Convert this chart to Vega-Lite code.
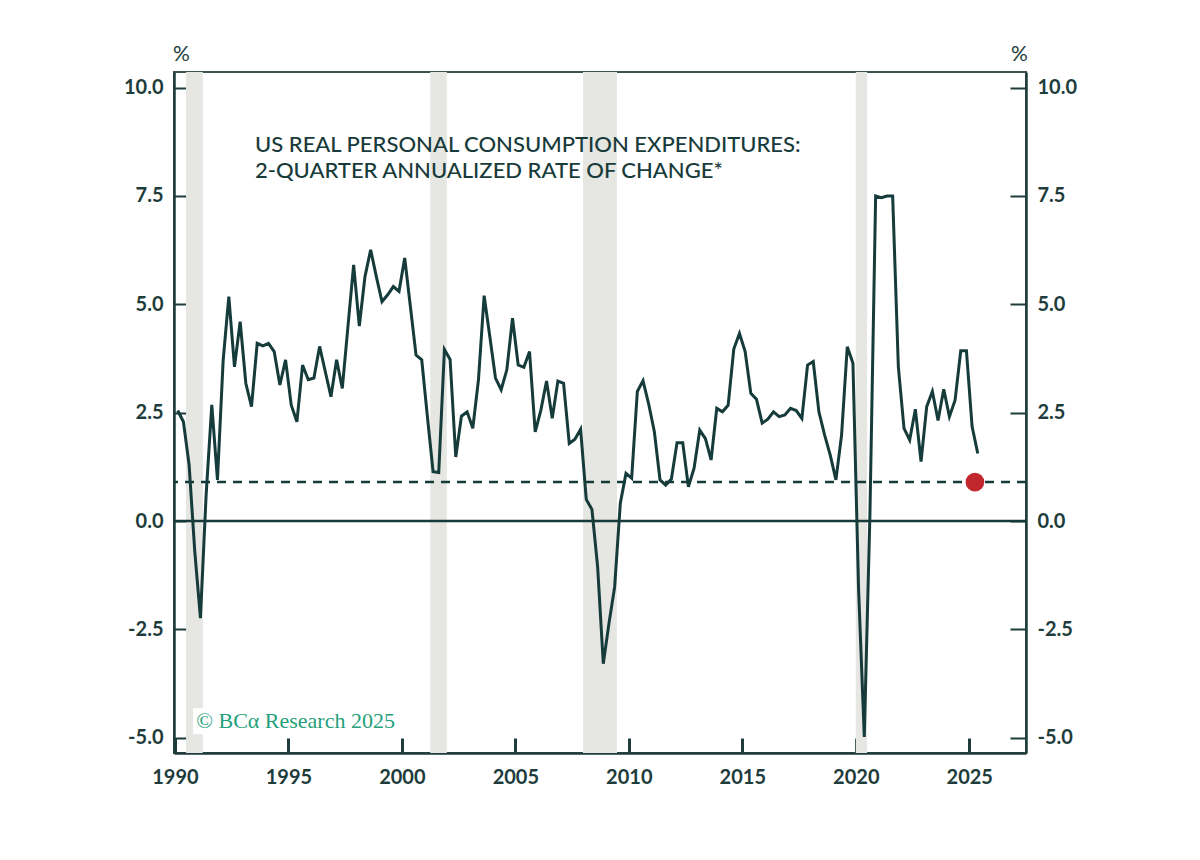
{
  "$schema": "https://vega.github.io/schema/vega-lite/v6.json",
  "width": 852,
  "height": 681,
  "autosize": "none",
  "padding": {"left": 174, "top": 72, "right": 174, "bottom": 107},
  "background": "white",
  "config": {
    "view": {"stroke": "#3b5452", "strokeWidth": 2},
    "font": "Lato",
    "axis": {
      "grid": false,
      "labelFont": "Lato",
      "labelFontWeight": 700,
      "labelFontSize": 20,
      "labelColor": "#1d3c3b",
      "domainColor": "#1d3c3b",
      "domainWidth": 2.5,
      "tickColor": "#1d3c3b",
      "tickWidth": 2,
      "titleFont": "Lato",
      "titleFontWeight": 400,
      "titleFontSize": 21,
      "titleColor": "#1d3c3b"
    }
  },
  "datasets": {
    "recessions": [
      {"start": 1990.49, "end": 1991.23},
      {"start": 2001.25, "end": 2001.98},
      {"start": 2007.98, "end": 2009.48},
      {"start": 2020.0, "end": 2020.5}
    ],
    "pce": [
      {"t": 1990.125, "v": 2.55}, {"t": 1990.375, "v": 2.29}, {"t": 1990.625, "v": 1.3}, {"t": 1990.875, "v": -0.7},
      {"t": 1991.125, "v": -2.24}, {"t": 1991.375, "v": 0.6}, {"t": 1991.625, "v": 2.68}, {"t": 1991.875, "v": 0.95},
      {"t": 1992.125, "v": 3.7}, {"t": 1992.375, "v": 5.18}, {"t": 1992.625, "v": 3.56}, {"t": 1992.875, "v": 4.6},
      {"t": 1993.125, "v": 3.18}, {"t": 1993.375, "v": 2.64}, {"t": 1993.625, "v": 4.1}, {"t": 1993.875, "v": 4.04},
      {"t": 1994.125, "v": 4.1}, {"t": 1994.375, "v": 3.91}, {"t": 1994.625, "v": 3.14}, {"t": 1994.875, "v": 3.72},
      {"t": 1995.125, "v": 2.68}, {"t": 1995.375, "v": 2.29}, {"t": 1995.625, "v": 3.6}, {"t": 1995.875, "v": 3.26},
      {"t": 1996.125, "v": 3.3}, {"t": 1996.375, "v": 4.03}, {"t": 1996.625, "v": 3.45}, {"t": 1996.875, "v": 2.87},
      {"t": 1997.125, "v": 3.72}, {"t": 1997.375, "v": 3.06}, {"t": 1997.625, "v": 4.49}, {"t": 1997.875, "v": 5.91},
      {"t": 1998.125, "v": 4.5}, {"t": 1998.375, "v": 5.64}, {"t": 1998.625, "v": 6.26}, {"t": 1998.875, "v": 5.64},
      {"t": 1999.125, "v": 5.06}, {"t": 1999.375, "v": 5.22}, {"t": 1999.625, "v": 5.41}, {"t": 1999.875, "v": 5.3},
      {"t": 2000.125, "v": 6.07}, {"t": 2000.375, "v": 4.95}, {"t": 2000.625, "v": 3.83}, {"t": 2000.875, "v": 3.72},
      {"t": 2001.125, "v": 2.41}, {"t": 2001.375, "v": 1.14}, {"t": 2001.625, "v": 1.12}, {"t": 2001.875, "v": 3.96},
      {"t": 2002.125, "v": 3.73}, {"t": 2002.375, "v": 1.48}, {"t": 2002.625, "v": 2.42}, {"t": 2002.875, "v": 2.52},
      {"t": 2003.125, "v": 2.14}, {"t": 2003.375, "v": 3.26}, {"t": 2003.625, "v": 5.2}, {"t": 2003.875, "v": 4.26},
      {"t": 2004.125, "v": 3.3}, {"t": 2004.375, "v": 3.03}, {"t": 2004.625, "v": 3.49}, {"t": 2004.875, "v": 4.68},
      {"t": 2005.125, "v": 3.6}, {"t": 2005.375, "v": 3.55}, {"t": 2005.625, "v": 3.91}, {"t": 2005.875, "v": 2.06},
      {"t": 2006.125, "v": 2.56}, {"t": 2006.375, "v": 3.23}, {"t": 2006.625, "v": 2.37}, {"t": 2006.875, "v": 3.23},
      {"t": 2007.125, "v": 3.18}, {"t": 2007.375, "v": 1.79}, {"t": 2007.625, "v": 1.89}, {"t": 2007.875, "v": 2.12},
      {"t": 2008.125, "v": 0.5}, {"t": 2008.375, "v": 0.27}, {"t": 2008.625, "v": -1.05}, {"t": 2008.875, "v": -3.29},
      {"t": 2009.125, "v": -2.36}, {"t": 2009.375, "v": -1.52}, {"t": 2009.625, "v": 0.41}, {"t": 2009.875, "v": 1.1},
      {"t": 2010.125, "v": 0.99}, {"t": 2010.375, "v": 2.99}, {"t": 2010.625, "v": 3.24}, {"t": 2010.875, "v": 2.7},
      {"t": 2011.125, "v": 2.06}, {"t": 2011.375, "v": 0.95}, {"t": 2011.625, "v": 0.83}, {"t": 2011.875, "v": 0.97},
      {"t": 2012.125, "v": 1.81}, {"t": 2012.375, "v": 1.81}, {"t": 2012.625, "v": 0.79}, {"t": 2012.875, "v": 1.22},
      {"t": 2013.125, "v": 2.1}, {"t": 2013.375, "v": 1.9}, {"t": 2013.625, "v": 1.41}, {"t": 2013.875, "v": 2.6},
      {"t": 2014.125, "v": 2.52}, {"t": 2014.375, "v": 2.67}, {"t": 2014.625, "v": 3.97}, {"t": 2014.875, "v": 4.33},
      {"t": 2015.125, "v": 3.91}, {"t": 2015.375, "v": 2.95}, {"t": 2015.625, "v": 2.81}, {"t": 2015.875, "v": 2.26},
      {"t": 2016.125, "v": 2.35}, {"t": 2016.375, "v": 2.52}, {"t": 2016.625, "v": 2.41}, {"t": 2016.875, "v": 2.45},
      {"t": 2017.125, "v": 2.6}, {"t": 2017.375, "v": 2.55}, {"t": 2017.625, "v": 2.37}, {"t": 2017.875, "v": 3.6},
      {"t": 2018.125, "v": 3.68}, {"t": 2018.375, "v": 2.52}, {"t": 2018.625, "v": 1.99}, {"t": 2018.875, "v": 1.52},
      {"t": 2019.125, "v": 0.95}, {"t": 2019.375, "v": 1.99}, {"t": 2019.625, "v": 4.02}, {"t": 2019.875, "v": 3.64},
      {"t": 2020.125, "v": -1.6}, {"t": 2020.375, "v": -4.98}, {"t": 2020.625, "v": 0.2}, {"t": 2020.875, "v": 7.5},
      {"t": 2021.125, "v": 7.46}, {"t": 2021.375, "v": 7.5}, {"t": 2021.625, "v": 7.5}, {"t": 2021.875, "v": 3.56},
      {"t": 2022.125, "v": 2.14}, {"t": 2022.375, "v": 1.87}, {"t": 2022.625, "v": 2.58}, {"t": 2022.875, "v": 1.37},
      {"t": 2023.125, "v": 2.64}, {"t": 2023.375, "v": 2.99}, {"t": 2023.625, "v": 2.32}, {"t": 2023.875, "v": 3.04},
      {"t": 2024.125, "v": 2.41}, {"t": 2024.375, "v": 2.79}, {"t": 2024.625, "v": 3.93}, {"t": 2024.875, "v": 3.93},
      {"t": 2025.125, "v": 2.18}, {"t": 2025.375, "v": 1.56}
    ],
    "threshold": [{"v": 0.9}],
    "latest": [{"t": 2025.25, "v": 0.9}],
    "zero": [{"v": 0}],
    "one": [{}]
  },
  "layer": [
    {
      "data": {"name": "recessions"},
      "mark": {"type": "rect", "color": "#e6e6e2"},
      "encoding": {
        "x": {
          "field": "start", "type": "quantitative",
          "scale": {"domain": [1989.96, 2027.5], "nice": false, "zero": false},
          "axis": {
            "orient": "bottom", "values": [1990, 1995, 2000, 2005, 2010, 2015, 2020, 2025],
            "format": "d", "tickSize": -15, "tickWidth": 3, "labelPadding": 29,
            "labelFlush": false, "labelOverlap": false, "title": null
          }
        },
        "x2": {"field": "end"}
      }
    },
    {
      "data": {"name": "zero"},
      "mark": {"type": "rule", "color": "#163a39", "strokeWidth": 2.5},
      "encoding": {
        "y": {
          "field": "v", "type": "quantitative",
          "scale": {"domain": [-5.35, 10.36], "nice": false, "zero": false},
          "axis": {
            "orient": "right", "values": [-5, -2.5, 0, 2.5, 5, 7.5, 10],
            "labelExpr": "replace(format(datum.value, '.1f'), '\u2212', '-')",
            "tickSize": -16, "labelPadding": 27,
            "title": "%", "titleAngle": 0, "titleX": -7, "titleY": -12,
            "titleAlign": "center", "titleBaseline": "alphabetic"
          }
        }
      }
    },
    {
      "data": {"name": "threshold"},
      "mark": {"type": "rule", "color": "#163a39", "strokeWidth": 2.5, "strokeDash": [9, 7]},
      "encoding": {
        "y": {"field": "v", "type": "quantitative", "scale": {"domain": [-5.35, 10.36], "nice": false, "zero": false}, "axis": null}
      }
    },
    {
      "data": {"name": "pce"},
      "mark": {"type": "line", "color": "#163b3b", "strokeWidth": 3, "strokeJoin": "miter"},
      "encoding": {
        "x": {"field": "t", "type": "quantitative", "scale": {"domain": [1989.96, 2027.5], "nice": false, "zero": false}},
        "y": {
          "field": "v", "type": "quantitative",
          "scale": {"domain": [-5.35, 10.36], "nice": false, "zero": false},
          "axis": {
            "orient": "left", "values": [-5, -2.5, 0, 2.5, 5, 7.5, 10],
            "labelExpr": "replace(format(datum.value, '.1f'), '\u2212', '-')",
            "tickSize": -16, "labelPadding": 27,
            "title": "%", "titleAngle": 0, "titleX": 7, "titleY": -12,
            "titleAlign": "center", "titleBaseline": "alphabetic"
          }
        }
      }
    },
    {
      "data": {"name": "latest"},
      "mark": {"type": "circle", "color": "#c1272d", "opacity": 1, "size": 350},
      "encoding": {
        "x": {"field": "t", "type": "quantitative", "scale": {"domain": [1989.96, 2027.5], "nice": false, "zero": false}},
        "y": {"field": "v", "type": "quantitative", "scale": {"domain": [-5.35, 10.36], "nice": false, "zero": false}, "axis": null}
      }
    },
    {
      "data": {"name": "one"},
      "mark": {
        "type": "text",
        "text": ["US REAL PERSONAL CONSUMPTION EXPENDITURES:", "2-QUARTER ANNUALIZED RATE OF CHANGE*"],
        "align": "left", "baseline": "alphabetic", "lineHeight": 26,
        "font": "Lato", "fontSize": 22, "fontWeight": 500, "color": "#173b3a"
      },
      "encoding": {
        "x": {"datum": 1993.53, "type": "quantitative", "scale": {"domain": [1989.96, 2027.5], "nice": false, "zero": false}},
        "y": {"datum": 8.52, "type": "quantitative", "scale": {"domain": [-5.35, 10.36], "nice": false, "zero": false}, "axis": null}
      }
    },
    {
      "data": {"name": "one"},
      "mark": {"type": "rect", "color": "white"},
      "encoding": {
        "x": {"datum": 1990.8, "type": "quantitative", "scale": {"domain": [1989.96, 2027.5], "nice": false, "zero": false}},
        "x2": {"datum": 1999.8},
        "y": {"datum": -4.32, "type": "quantitative", "scale": {"domain": [-5.35, 10.36], "nice": false, "zero": false}, "axis": null},
        "y2": {"datum": -4.92}
      }
    },
    {
      "data": {"name": "one"},
      "mark": {
        "type": "text",
        "text": "\u00a9 BC\u03b1 Research 2025",
        "align": "left", "baseline": "alphabetic",
        "font": "Liberation Serif", "fontSize": 22, "color": "#23a07b"
      },
      "encoding": {
        "x": {"datum": 1990.94, "type": "quantitative", "scale": {"domain": [1989.96, 2027.5], "nice": false, "zero": false}},
        "y": {"datum": -4.78, "type": "quantitative", "scale": {"domain": [-5.35, 10.36], "nice": false, "zero": false}, "axis": null}
      }
    }
  ],
  "resolve": {"axis": {"y": "independent"}}
}
